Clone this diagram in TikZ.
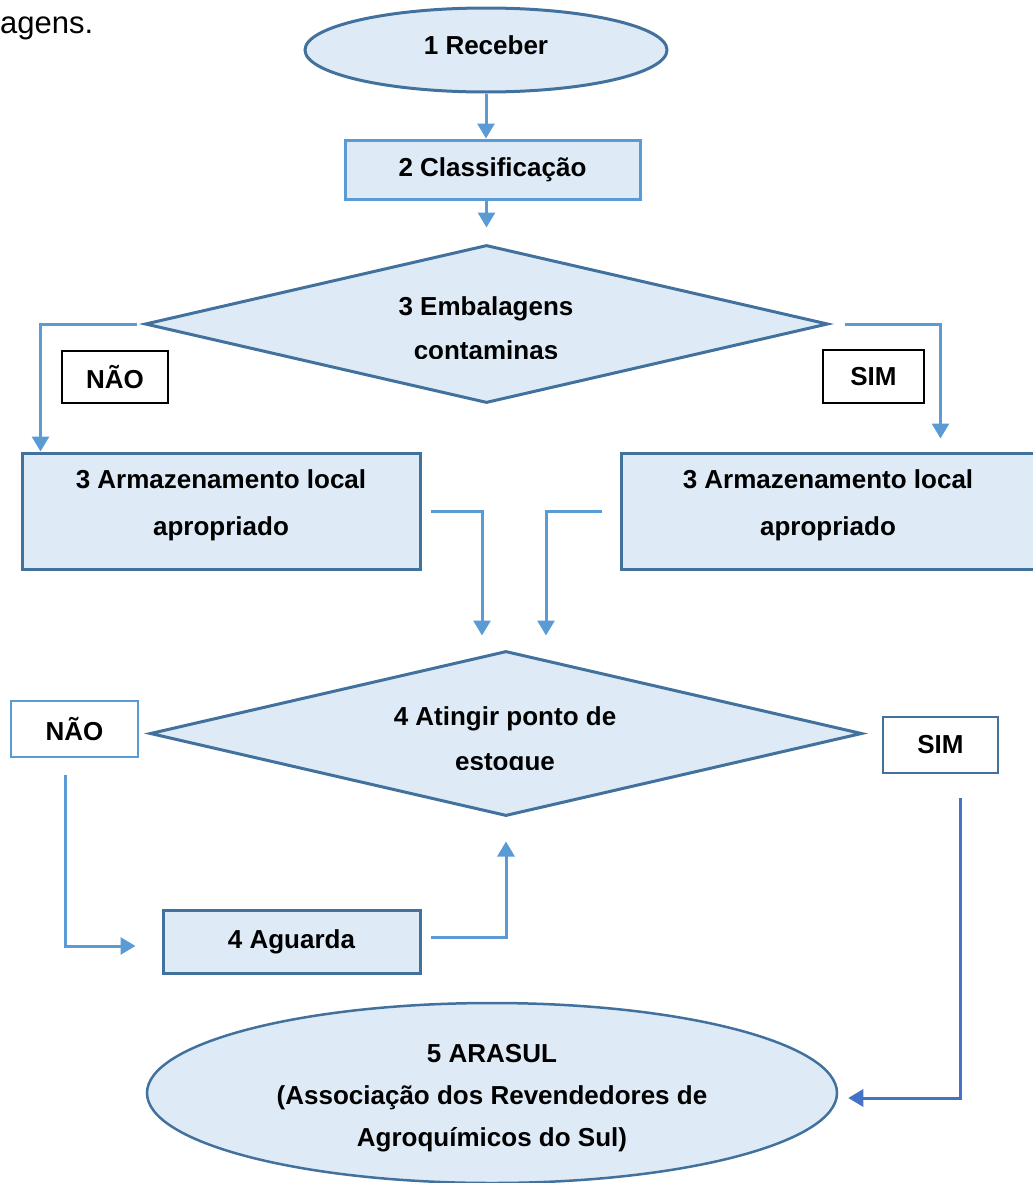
\documentclass[tikz,border=0pt]{standalone}
\usepackage{fontspec}
\setmainfont{Liberation Sans}
\usetikzlibrary{shapes.geometric,arrows.meta,positioning}

\definecolor{fillblue}{HTML}{DEEBF7}
\definecolor{darkline}{HTML}{41719C}
\definecolor{lightline}{HTML}{5B9BD5}
\definecolor{midline}{HTML}{4472C4}

\begin{document}
\begin{tikzpicture}[x=1pt, y=-1pt,
  every node/.style={font=\fontsize{26}{30}\selectfont\bfseries},
  flowbox/.style={draw=darkline, fill=fillblue, line width=3pt, inner sep=0pt, align=center},
  flowround/.style={flowbox, ellipse},
  flowdiam/.style={flowbox, diamond},
  answer/.style={draw=black, fill=white, line width=2.5pt, inner sep=0pt},
  link/.style={draw=lightline, line width=3pt, -{Triangle[width=17pt,length=15pt]}}]
  \useasboundingbox (0,0) rectangle (1033,1183);

  % trailing word of the sentence above
  \node[anchor=base west, inner sep=0pt, font=\fontsize{31}{36}\selectfont] (frag) at (0,33) {agens.};

  % flow
  \node[flowround, minimum width=362pt, minimum height=84pt] (r1) at (486,50) {1 Receber\rule[-10pt]{0pt}{10pt}};
  \node[flowbox, draw=lightline, minimum width=295pt, minimum height=59pt] (c2) at (492.5,169.5) {2 Classificação};
  \node[flowdiam, minimum width=683pt, minimum height=158pt] (d3) at (486.5,324) {};
  \begin{scope}
    \clip (300,240) rectangle (700,358);
    \node[align=center, font=\fontsize{26}{44}\selectfont\bfseries] (d3t) at (486,328) {3 Embalagens\\contaminas};
  \end{scope}
  \node[answer, minimum width=106pt, minimum height=52pt] (n1) at (115,377) {NÃO};
  \node[answer, minimum width=101pt, minimum height=53pt] (s1) at (873.5,376.5) {SIM};
  \node[flowbox, minimum width=398pt, minimum height=116pt, font=\fontsize{26}{47}\selectfont\bfseries] (a3l) at (221,511) {3 Armazenamento local\\apropriado\rule[-16pt]{0pt}{16pt}};
  \node[flowbox, minimum width=414pt, minimum height=116pt, font=\fontsize{26}{47}\selectfont\bfseries] (a3r) at (828,511) {3 Armazenamento local\\apropriado\rule[-16pt]{0pt}{16pt}};
  \node[flowdiam, minimum width=712pt, minimum height=165pt] (d4) at (506,733.5) {};
  \begin{scope}
    \clip (300,650) rectangle (720,769);
    \node[align=center, font=\fontsize{26}{45}\selectfont\bfseries] (d4t) at (505,741) {4 Atingir ponto de\\estoque};
  \end{scope}
  \node[answer, draw=lightline, minimum width=127pt, minimum height=56pt] (n2) at (74.5,729) {NÃO};
  \node[answer, draw=darkline, minimum width=115pt, minimum height=56pt] (s2) at (940.5,745) {SIM};
  \node[flowbox, minimum width=257pt, minimum height=63pt] (ag) at (291.5,941.5) {4 Aguarda};
  \node[flowround, line width=2.5pt, minimum width=690pt, minimum height=180pt, font=\fontsize{26}{42}\selectfont\bfseries] (e5) at (492,1093) {\rule{0pt}{29pt}5 ARASUL\\(Associação dos Revendedores de\\Agroquímicos do Sul)};

  % connectors
  \draw[link] (r1.south) -- (r1.south |- c2.north);
  \draw[link] (d3.north |- c2.south) -- ([yshift=16pt]d3.north);
  \draw[link] ([xshift=-7pt]d3.west) -| ([xshift=20pt]a3l.north west);
  \draw[link] ([xshift=15pt]d3.east) -| ([xshift=321pt,yshift=13pt]a3r.north west);
  \draw[link] ([xshift=9pt]a3l.east) -| ([xshift=-24pt,yshift=14pt]d4.north);
  \draw[link] ([xshift=-18pt]a3r.west) -| ([xshift=40pt,yshift=14pt]d4.north);
  \draw[link] ([xshift=-9.5pt,yshift=-17pt]n2.south) |- ([xshift=-26pt,yshift=-4.5pt]ag.west);
  \draw[link] ([xshift=9pt,yshift=4.5pt]ag.east) -| ([yshift=-24pt]d4.south);
  \draw[link, draw=midline] ([xshift=19.5pt,yshift=-24pt]s2.south) |- ([xshift=10pt,yshift=-5pt]e5.east);
\end{tikzpicture}
\end{document}
